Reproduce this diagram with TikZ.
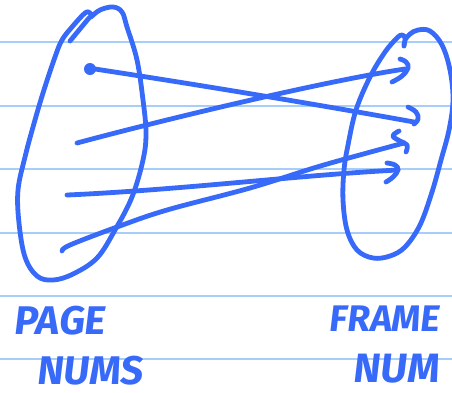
\documentclass[tikz,border=0pt]{standalone}
\usepackage{fontspec}
\newfontfamily\hand{Fira Sans}[FakeSlant=0.12]
\definecolor{ink}{RGB}{56,106,250}
\definecolor{rulecol}{RGB}{166,206,248}
\begin{document}
\begin{tikzpicture}[x=1pt,y=-1pt,
  pen/.style={draw=ink, line width=4.8pt, line cap=round, line join=round},
  ruleline/.style={draw=rulecol, line width=2pt},
  handlabel/.style={text=ink, inner sep=0pt, font=\hand\bfseries\fontsize{40}{40}\selectfont}]
\useasboundingbox (0,0) rectangle (452,392);
\fill[white] (0,0) rectangle (452,392);
\foreach \y in {42,106,169,233,296,359} \draw[ruleline] (0,\y) -- (452,\y);
% left set (page numbers)
\draw[pen] plot[smooth, tension=0.6] coordinates {(91,17) (100,10) (113,7) (122,12) (127,27) (137,60) (143,100) (146,133) (143,160) (132,197) (115,230) (97,258) (73,274) (53,280) (37,276) (25,257) (19,223) (18,190) (25,157) (33,127) (43,93) (55,57) (62,40) (72,27) (85,13) (90,13) (91,17)};
\draw[pen] (70,41) -- (89,18);
% right set (frame numbers)
\draw[pen] plot[smooth, tension=0.6] coordinates {(404,46) (405,40) (410,34) (418,30) (430,31) (442,45) (450,70) (453,100) (449,130) (441,160) (432,192) (420,225) (405,247) (390,256) (373,258) (357,250) (347,230) (343,200) (344,170) (348,145) (356,110) (370,77) (385,52) (397,38) (402,35) (405,38) (404,46)};
% endpoints
\coordinate (p1) at (95,69);
\coordinate (p2) at (77,143);
\coordinate (p3) at (67,195);
\coordinate (p4) at (62,251);
\coordinate (f1) at (414,122);
\coordinate (f2) at (405,69);
\coordinate (f3) at (398,170);
\coordinate (f4) at (404,143);
\fill[ink] (90,69) circle (6pt);
% connectors
\draw[pen] (p1) .. controls (200,85) and (320,105) .. (f1);
\draw[pen] (p2) .. controls (170,118) and (330,80) .. (f2);
\draw[pen] (p3) .. controls (180,190) and (300,175) .. (f3);
\draw[pen] plot[smooth, tension=0.6] coordinates {(p4) (70,245) (117,227) (167,210) (250,188) (317,167) (367,153) (f4)};
% hand-drawn arrowheads
\draw[pen] plot[smooth, tension=0.7] coordinates {(408,107) (416,112) (418,119) (414,124)};
\draw[pen] plot[smooth, tension=0.7] coordinates {(399,131) (393,136) (400,141) (407,145) (406,152)};
\draw[pen] plot[smooth, tension=0.7] coordinates {(400,59) (406,62) (408,68) (402,76) (392,82)};
\draw[pen] plot[smooth, tension=0.7] coordinates {(387,163) (395,165) (398,170) (393,177) (386,182)};
% labels
\node[handlabel, anchor=south west] (pg) at (13,335) {PAGE};
\node[handlabel, anchor=south west] (pn) at (36,385) {NUMS};
\node[handlabel, anchor=south west, font=\hand\bfseries\fontsize{37}{37}\selectfont] (fr) at (328,332) {FRAME};
\node[handlabel, anchor=south west, font=\hand\bfseries\fontsize{41}{41}\selectfont] (fn) at (352,383) {NUM};
\end{tikzpicture}
\end{document}
